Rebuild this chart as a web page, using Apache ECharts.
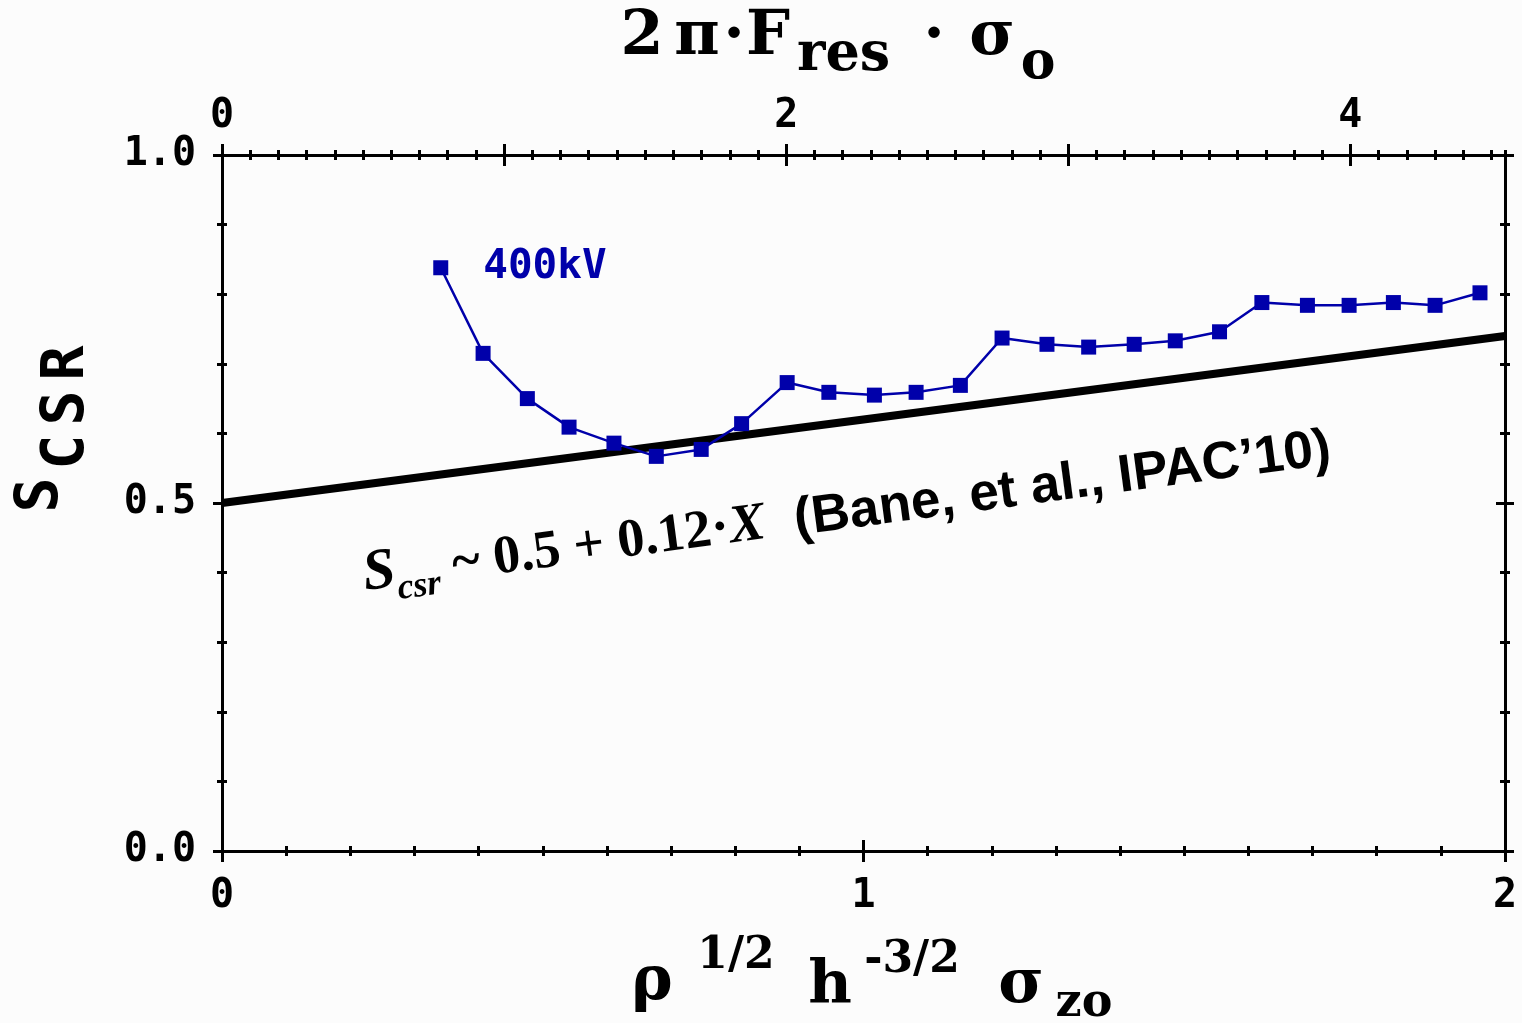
<!DOCTYPE html>
<html><head><meta charset="utf-8">
<script src="https://cdn.jsdelivr.net/npm/echarts@6/dist/echarts.min.js"></script>
<style>html,body{margin:0;padding:0;background:#fcfcfc;} #c{width:1522px;height:1023px;}</style>
</head><body><div id="c"></div>
<script>
// ---- data ----
const xVals = [0.341,0.407,0.476,0.541,0.611,0.677,0.747,0.810,0.881,0.946,1.017,1.082,1.151,1.216,1.286,1.351,1.422,1.486,1.555,1.621,1.692,1.757,1.826,1.891,1.961];
const yVals = [0.838,0.715,0.650,0.609,0.586,0.567,0.577,0.614,0.673,0.659,0.655,0.659,0.669,0.737,0.728,0.724,0.728,0.733,0.746,0.788,0.784,0.784,0.788,0.784,0.802];
const seriesName = '400kV';
const fitX = [0, 2];
const fitY = [0.50, 0.74];
const bottomTicks = [0, 1, 2];
const topTickLabels = [0, 2, 4];
const leftTickLabels = ['0.0', '0.5', '1.0'];
const topMax = 4.548;

const MONO = '"DejaVu Sans Mono"';
const SERIF = '"DejaVu Serif"';
const tickFont = {fontFamily: MONO, fontWeight: 'bold', fontSize: 40, color: '#000'};
const TL = {color: '#000', width: 3};
const GRID = {left: 222, right: 17, top: 155, bottom: 172, containLabel: false};

function tickAxis(extra) {
  return Object.assign({
    type: 'value', splitLine: {show: false},
    axisLine: {show: false, onZero: false},
    axisLabel: {show: false},
  }, extra);
}
function hiddenY(g) { return {type: 'value', gridIndex: g, min: 0, max: 1, show: false}; }

const chart = echarts.init(document.getElementById('c'), null, {renderer: 'canvas'});

const mainData = xVals.map((x, i) => {
  const d = {value: [x, yVals[i]]};
  if (i === 0) d.label = {show: true, formatter: seriesName, position: 'right', distance: 35,
    fontFamily: MONO, fontWeight: 'bold', fontSize: 41, color: '#0000AA'};
  return d;
});

function t(text, x, y, size, font, align, rot) {
  return {type: 'text', x: x, y: y, rotation: rot || 0, z: 10,
    style: {text: text, font: 'bold ' + size + 'px ' + (font || SERIF), fill: '#000',
      textAlign: align || 'center', textVerticalAlign: 'middle'}};
}

const option = {
  backgroundColor: '#fcfcfc',
  animation: false,
  grid: [GRID, GRID, GRID, GRID],
  xAxis: [
    // grid 0: main axes, outward ticks + labels
    { type: 'value', gridIndex: 0, position: 'bottom', min: 0, max: 2, interval: 1,
      axisLine: {show: true, onZero: false, lineStyle: TL},
      axisTick: {show: true, inside: false, length: 11, lineStyle: TL},
      minorTick: {show: true, splitNumber: 10, length: 5, lineStyle: TL},
      axisLabel: Object.assign({margin: 26, formatter: v => bottomTicks.includes(v) ? String(v) : ''}, tickFont),
      splitLine: {show: false} },
    { type: 'value', gridIndex: 0, position: 'top', min: 0, max: topMax, interval: 1,
      axisLine: {show: true, onZero: false, lineStyle: TL},
      axisTick: {show: true, inside: false, length: 11, lineStyle: TL},
      axisLabel: Object.assign({margin: 18, showMaxLabel: false,
        formatter: v => { const r = Math.round(v); return (Math.abs(v - r) < 1e-6 && topTickLabels.includes(r)) ? String(r) : ''; }}, tickFont),
      splitLine: {show: false} },
    // grid 1: inward halves of the ticks
    tickAxis({ gridIndex: 1, position: 'bottom', min: 0, max: 2, interval: 1,
      axisTick: {show: true, inside: true, length: 11, lineStyle: TL},
      minorTick: {show: true, splitNumber: 10, length: 5, lineStyle: TL} }),
    tickAxis({ gridIndex: 1, position: 'top', min: 0, max: topMax, interval: 1,
      axisTick: {show: true, inside: true, length: 11, lineStyle: TL} }),
    // grid 2/3: top minor ticks every 0.1
    tickAxis({ gridIndex: 2, position: 'top', min: 0, max: topMax, interval: 0.1,
      axisTick: {show: true, inside: false, length: 5, lineStyle: TL} }),
    tickAxis({ gridIndex: 3, position: 'top', min: 0, max: topMax, interval: 0.1,
      axisTick: {show: true, inside: true, length: 5, lineStyle: TL} })
  ],
  yAxis: [
    { type: 'value', gridIndex: 0, position: 'left', min: 0, max: 1, interval: 0.5,
      axisLine: {show: true, onZero: false, lineStyle: TL},
      axisTick: {show: true, inside: false, length: 9, lineStyle: TL},
      minorTick: {show: true, splitNumber: 5, length: 5, lineStyle: TL},
      axisLabel: Object.assign({margin: 26, formatter: v => leftTickLabels[Math.round(v * 2)] || ''}, tickFont),
      splitLine: {show: false} },
    { type: 'value', gridIndex: 0, position: 'right', min: 0, max: 1, interval: 0.5,
      axisLine: {show: true, onZero: false, lineStyle: TL},
      axisTick: {show: true, inside: false, length: 9, lineStyle: TL},
      minorTick: {show: true, splitNumber: 5, length: 5, lineStyle: TL},
      axisLabel: {show: false}, splitLine: {show: false} },
    tickAxis({ gridIndex: 1, position: 'left', min: 0, max: 1, interval: 0.5,
      axisTick: {show: true, inside: true, length: 12, lineStyle: TL},
      minorTick: {show: true, splitNumber: 5, length: 5, lineStyle: TL} }),
    tickAxis({ gridIndex: 1, position: 'right', min: 0, max: 1, interval: 0.5,
      axisTick: {show: true, inside: true, length: 9, lineStyle: TL},
      minorTick: {show: true, splitNumber: 5, length: 5, lineStyle: TL} }),
    hiddenY(2), hiddenY(3)
  ],
  series: [
    { type: 'line', xAxisIndex: 0, yAxisIndex: 0, data: fitX.map((x, i) => [x, fitY[i]]),
      showSymbol: false, symbol: 'none', lineStyle: {color: '#000', width: 8}, z: 2, silent: true },
    { type: 'line', name: seriesName, xAxisIndex: 0, yAxisIndex: 0, data: mainData,
      symbol: 'rect', symbolSize: 15, itemStyle: {color: '#0000AA'},
      lineStyle: {color: '#0000AA', width: 2.5}, z: 3 }
  ],
  graphic: [
    // top title: 2π·F_res · σ_o
    t('2', 642, 38, 62), t('π', 697, 38, 62), t('·', 734, 38, 62), t('F', 768, 38, 62),
    t('res', 797, 56, 54, SERIF, 'left'),
    t('·', 934, 38, 62), t('σ', 992, 38, 62), t('o', 1038, 64, 52),
    // bottom title: ρ^(1/2) h^(-3/2) σ_zo
    t('ρ', 652, 983, 62), t('1/2', 736, 957, 44), t('h', 830, 987, 60),
    t('-3/2', 912, 961, 44), t('σ', 1021, 986, 62), t('zo', 1084, 1004, 46),
    // y title: S_CSR (rotated)
    t('S', 42, 495, 58, MONO, 'center', Math.PI / 2),
    t('C', 68, 452, 58, MONO, 'center', Math.PI / 2),
    t('S', 68, 408, 58, MONO, 'center', Math.PI / 2),
    t('R', 68, 363, 58, MONO, 'center', Math.PI / 2),
    // annotation
    {type: 'text', x: 367, y: 604, rotation: 0.132, z: 10, style: {
      text: '{s|S}{sub|csr}{t| ~ 0.5 + 0.12·}{x|X}{a|  (Bane, et al., IPAC’10)}',
      textAlign: 'left', textVerticalAlign: 'bottom', fill: '#000',
      rich: {
        s: {font: 'italic bold 58px "Liberation Serif"', fill: '#000', lineHeight: 60, verticalAlign: 'bottom'},
        sub: {font: 'italic bold 36px "Liberation Serif"', fill: '#000', lineHeight: 40, verticalAlign: 'bottom', padding: [0, 0, -8, 0]},
        t: {font: 'bold 54px "Liberation Serif"', fill: '#000', lineHeight: 60, verticalAlign: 'bottom'},
        x: {font: 'italic bold 54px "Liberation Serif"', fill: '#000', lineHeight: 60, verticalAlign: 'bottom'},
        a: {font: 'bold 53px "Liberation Sans"', fill: '#000', lineHeight: 60, verticalAlign: 'bottom'}
      }}}
  ]
};
chart.setOption(option);
</script>
</body></html>
